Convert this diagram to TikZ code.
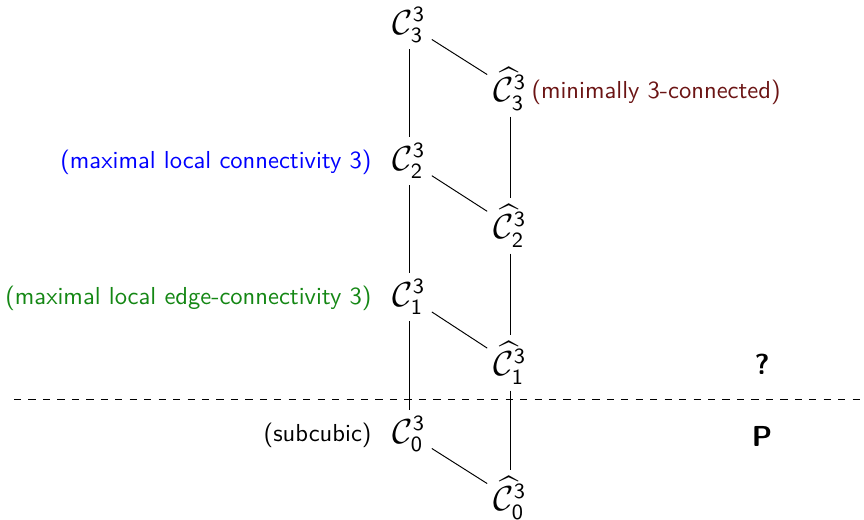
\documentclass[tikz,border=0pt]{standalone}
\usepackage{amsmath}
\definecolor{minred}{RGB}{107,20,20}
\definecolor{edgegreen}{RGB}{20,135,20}
\tikzset{
  cls/.style={font=\fontsize{13.3}{16}\selectfont, inner sep=2.5pt},
  lbl/.style={font=\fontsize{10.2}{12}\selectfont\sffamily},
  verdict/.style={font=\sffamily\large\bfseries},
  link/.style={line width=0.4pt},
}
\newcommand{\Cls}[1]{\mathcal{C}^{\mathsf{3}}_{\mathsf{#1}}}
\newcommand{\Hcls}[1]{\widehat{\mathcal{C}}^{\mathsf{3}}_{\mathsf{#1}}}
\begin{document}
\begin{tikzpicture}[x=0.415pt,y=-0.415pt]
  \useasboundingbox (0,0) rectangle (864,519);
  % the two chains of classes
  \node[cls] (c3) at (409,25) {$\Cls{3}$};
  \node[cls] (c2) at (409,161) {$\Cls{2}$};
  \node[cls] (c1) at (409,297) {$\Cls{1}$};
  \node[cls] (c0) at (409,434) {$\Cls{0}$};
  \node[cls] (h3) at (510,89) {$\Hcls{3}$};
  \node[cls] (h2) at (510,226) {$\Hcls{2}$};
  \node[cls] (h1) at (510,363) {$\Hcls{1}$};
  \node[cls] (h0) at (510,498) {$\Hcls{0}$};
  % descriptions
  \node[lbl, text=minred, anchor=west] (l3) at (523,92) {(minimally 3-connected)};
  \node[lbl, text=blue, anchor=east] (l2) at (380,162) {(maximal local connectivity 3)};
  \node[lbl, text=edgegreen, anchor=east] (l1) at (380,298) {(maximal local edge-connectivity 3)};
  \node[lbl, anchor=east] (l0) at (380,435) {(subcubic)};
  % complexity verdicts
  \node[verdict] (q) at (762,364) {?};
  \node[verdict] (p) at (762,436) {P};
  % inclusions
  \draw[link] (c3) -- (c2) -- (c1) -- (c0);
  \draw[link] (h3) -- (h2) -- (h1) -- (h0);
  \draw[link] (c3) -- (h3);
  \draw[link] (c2) -- (h2);
  \draw[link] (c1) -- (h1);
  \draw[link] (c0) -- (h0);
  % boundary between the two regions
  \coordinate (dl) at (14,399);
  \coordinate (dr) at (864,399);
  \draw[dashed] (dl) -- (dr);
\end{tikzpicture}
\end{document}
